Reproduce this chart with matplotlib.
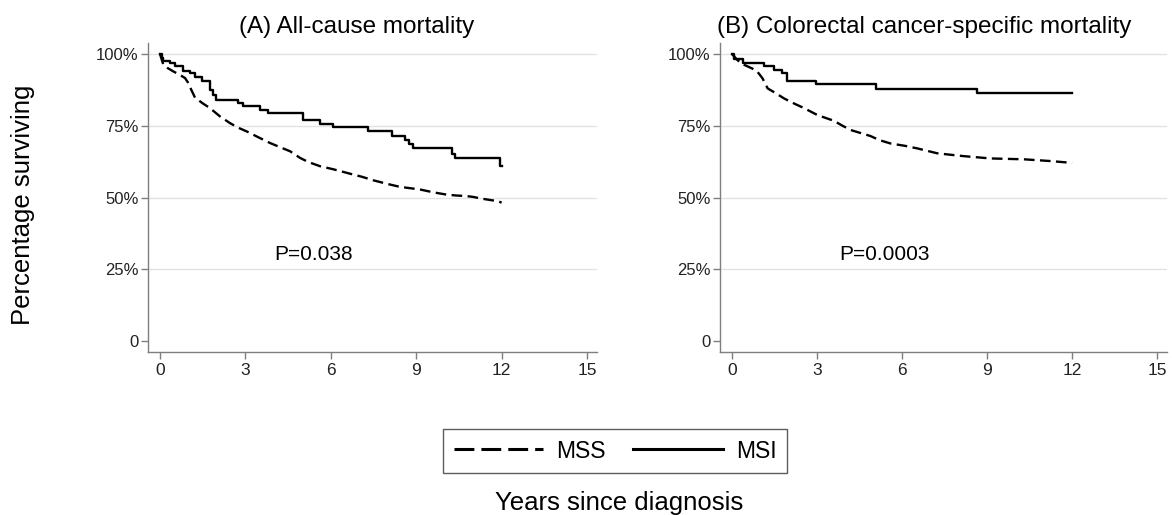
import matplotlib.pyplot as plt
from matplotlib.lines import Line2D
from matplotlib.ticker import FixedLocator, FixedFormatter

plt.rcParams['font.family'] = ['Liberation Sans', 'DejaVu Sans']

# (A) All-cause mortality
a_mss_t = [0, 0.12, 0.25, 0.47, 0.7, 0.88, 1.0, 1.1, 1.23, 1.5, 1.76, 2.1, 2.46, 2.75,
           3.05, 3.45, 3.86, 4.2, 4.57, 4.92, 5.2, 5.62, 6.1, 6.67, 7.1, 7.49, 8.0,
           8.43, 9.13, 9.6, 10.07, 10.4, 10.77, 11.0, 11.36, 11.88, 12.0]
a_mss_s = [100, 96.2, 95.2, 93.9, 92.7, 91.6, 89.8, 87.5, 84.8, 82.8, 81.1, 78.3, 75.9, 74.3,
           73.0, 71.0, 69.0, 67.6, 66.1, 63.8, 62.4, 60.9, 59.8, 58.3, 57.2, 56.0, 54.7,
           53.7, 52.8, 51.8, 51.0, 50.7, 50.5, 50.2, 49.5, 48.7, 48.2]
a_msi_t = [0, 0.06, 0.12, 0.35, 0.53, 0.82, 1.05, 1.23, 1.46, 1.76, 1.87, 1.98, 2.75, 2.93,
           3.51, 3.8, 5.03, 5.62, 6.09, 7.32, 8.14, 8.6, 8.75, 8.9, 10.24, 10.36, 11.94, 12.0]
a_msi_s = [100, 98.5, 97.7, 96.8, 95.8, 94.2, 93.3, 92.1, 90.7, 87.5, 85.8, 84.0, 82.9, 81.7,
           80.6, 79.3, 76.9, 75.7, 74.4, 73.3, 71.5, 70.0, 68.6, 67.2, 65.3, 63.8, 61.1, 61.1]

# (B) Colorectal cancer-specific mortality
b_mss_t = [0, 0.2, 0.43, 0.7, 0.9, 1.08, 1.26, 1.5, 1.84, 2.2, 2.55, 3.02, 3.6, 3.9, 4.19,
           4.89, 5.2, 5.6, 6.1, 6.54, 7.24, 7.7, 8.18, 9.12, 10.3, 11.23, 11.94, 12.0]
b_mss_s = [100, 97.8, 96.2, 95.0, 93.8, 91.5, 88.0, 86.6, 84.5, 82.7, 81.1, 78.7, 76.7, 75.0, 73.5,
           71.4, 70.0, 68.8, 68.0, 67.1, 65.4, 64.9, 64.4, 63.6, 63.3, 62.7, 62.1, 62.0]
b_msi_t = [0, 0.08, 0.38, 1.14, 1.49, 1.78, 1.96, 2.96, 5.07, 8.65, 12.0]
b_msi_s = [100, 98.1, 96.7, 95.8, 94.4, 93.2, 90.7, 89.4, 87.9, 86.3, 86.3]

panels = [
    ('(A) All-cause mortality', a_mss_t, a_mss_s, a_msi_t, a_msi_s, 'P=0.038'),
    ('(B) Colorectal cancer-specific mortality', b_mss_t, b_mss_s, b_msi_t, b_msi_s, 'P=0.0003'),
]

y_ticks = [0, 25, 50, 75, 100]
y_labels = ['0', '25%', '50%', '75%', '100%']
x_ticks = [0, 3, 6, 9, 12, 15]

W, H = 1172, 515
fig = plt.figure(figsize=(W / 100, H / 100), dpi=100)

axes_px = [(148, 597), (720, 1167)]
title_x = [357, 924]
top, bottom = 43, 352
axis_gray = '#7f7f7f'

for (x0, x1), tx, (title, mss_t, mss_s, msi_t, msi_s, ptxt) in zip(axes_px, title_x, panels):
    ax = fig.add_axes([x0 / W, 1 - bottom / H, (x1 - x0) / W, (bottom - top) / H])
    # MSS has many small steps, so it reads as a smooth dashed curve
    ax.plot(mss_t, mss_s, color='black', lw=1.7, dashes=(4.5, 2.3))
    ax.step(msi_t, msi_s, where='post', color='black', lw=1.7)
    ax.set_xlim(-0.42, 15.35)
    ax.set_ylim(-3.8, 103.8)
    ax.yaxis.set_major_locator(FixedLocator(y_ticks))
    ax.yaxis.set_major_formatter(FixedFormatter(y_labels))
    ax.set_xticks(x_ticks)
    for y in y_ticks[1:]:
        ax.axhline(y, color='#e3e3e3', lw=1, zorder=0)
    for side in ['top', 'right']:
        ax.spines[side].set_visible(False)
    for side in ['left', 'bottom']:
        ax.spines[side].set_color(axis_gray)
        ax.spines[side].set_linewidth(1)
    ax.tick_params(axis='y', length=5, width=1, color=axis_gray, pad=2, labelsize=12, labelcolor='#222222')
    ax.tick_params(axis='x', length=5, width=1, color=axis_gray, pad=3, labelsize=12.5, labelcolor='#222222')
    ax.text(5.4, 30, ptxt, ha='center', va='center', fontsize=15)
    fig.text(tx / W, 1 - 33 / H, title, ha='center', va='baseline', fontsize=17.5)

fig.text(23 / W, 1 - 205 / H, 'Percentage surviving', rotation=90, ha='center', va='center', fontsize=18.5)
fig.text(619 / W, 1 - 510 / H, 'Years since diagnosis', ha='center', va='baseline', fontsize=18.5)

handles = [
    Line2D([], [], color='black', lw=2.2, dashes=(6.5, 2.3)),
    Line2D([], [], color='black', lw=2.2),
]
leg = fig.legend(handles, ['MSS', 'MSI'], loc='center', bbox_to_anchor=(615 / W, 1 - 451 / H),
                 ncol=2, fontsize=16.5, frameon=True, fancybox=False, handlelength=3.9,
                 handletextpad=0.57, columnspacing=1.2, borderpad=0.45)
leg.get_frame().set_edgecolor('#333333')
leg.get_frame().set_linewidth(1)

fig.savefig('out.png', dpi=100)
